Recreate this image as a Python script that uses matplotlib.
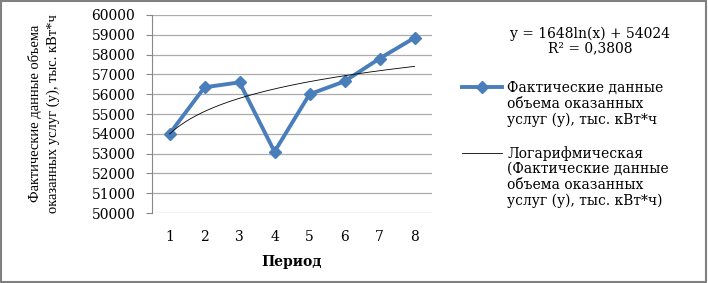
import numpy as np
import matplotlib.pyplot as plt
from matplotlib.patches import Rectangle

# Данные
period = [1, 2, 3, 4, 5, 6, 7, 8]
fakt = [54000, 56350, 56600, 53100, 56000, 56650, 57800, 58850]
y_ticks = [50000, 51000, 52000, 53000, 54000, 55000, 56000, 57000, 58000, 59000, 60000]
eq_text = 'y = 1648ln(x) + 54024\nR² = 0,3808'
lbl_fakt = ['Фактические данные', 'объема оказанных', 'услуг (у), тыс. кВт*ч']
lbl_log = ['Логарифмическая', '(Фактические данные', 'объема оказанных', 'услуг (у), тыс. кВт*ч)']

plt.rcParams['font.family'] = ['DejaVu Serif']
fs = 10

fig = plt.figure(figsize=(7.08, 2.83), dpi=100)
ax = fig.add_axes([0.2147, 0.247, 0.3955, 0.700])

# логарифмический тренд
x = np.array(period, dtype=float)
b, a = np.polyfit(np.log(x), fakt, 1)
xs = np.linspace(1, 8, 200)

l1, = ax.plot(x, fakt, '-D', color='#4A7EBB', lw=2.8, ms=6.5, zorder=3)
l2, = ax.plot(xs, b*np.log(xs) + a, '-', color='black', lw=0.6, zorder=4)

ax.set_xlim(0.5, 8.5)
ax.set_ylim(50000, 60000)
ax.set_yticks(y_ticks)
ax.set_xticks(period)
ax.tick_params(axis='y', labelsize=fs, length=4, color='#888888', pad=8)
ax.tick_params(axis='x', labelsize=fs, length=0, pad=12)
ax.grid(axis='y', color='#ABABAB', lw=0.9)
ax.set_axisbelow(True)
for s in ['top', 'right', 'bottom']:
    ax.spines[s].set_visible(False)
ax.spines['left'].set_color('#888888')

ax.set_xlabel('Период', fontsize=fs, fontweight='bold', labelpad=8)
fig.text(0.062, 0.6, 'Фактические данные объема\nоказанных услуг (у), тыс. кВт*ч',
         rotation=90, ha='center', va='center', fontsize=10.5, linespacing=1.5,
         family='Liberation Serif')

fig.text(0.833, 0.855, eq_text, ha='center', va='center', fontsize=fs, linespacing=1.0)

# легенда: маркер на уровне первой строки
step = 16 / 283
for h, lines, y0 in [(l1, lbl_fakt, 0.689), (l2, lbl_log, 0.459)]:
    leg = fig.legend([h], [lines[0]], loc='center left', bbox_to_anchor=(0.652, y0),
                     frameon=False, fontsize=fs, handlelength=2.9, handletextpad=0.4,
                     borderpad=0, borderaxespad=0)
    fig.canvas.draw()
    tx = leg.get_texts()[0].get_window_extent().x0 / fig.bbox.width
    for k, s in enumerate(lines[1:], start=1):
        fig.text(tx, y0 - k*step, s, ha='left', va='center', fontsize=fs)

fig.patches.append(Rectangle((0.002, 0.004), 0.995, 0.992, transform=fig.transFigure,
                             fill=False, edgecolor='#808080', lw=1.5))

plt.savefig('out.png', dpi=100)
